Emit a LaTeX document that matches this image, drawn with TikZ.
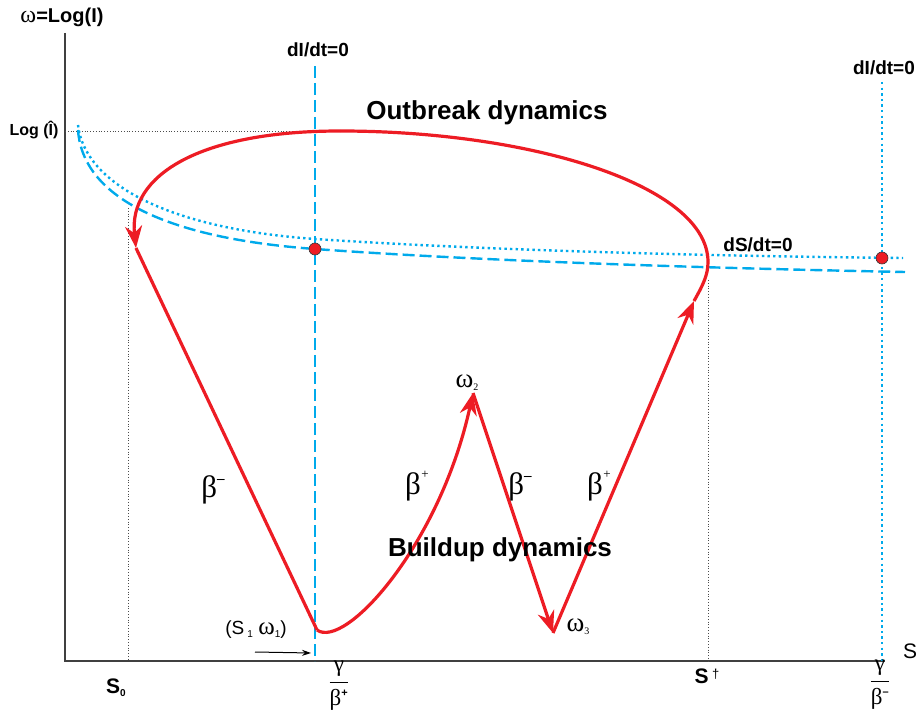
\documentclass[tikz,border=0pt]{standalone}
\usepackage{fontspec}
\setmainfont{Liberation Sans}
\newfontfamily\grk{Liberation Serif}
\usetikzlibrary{arrows.meta, positioning}
\definecolor{orbitred}{RGB}{237,28,36}
\definecolor{nullblue}{RGB}{0,170,235}

\newcommand{\bplus}{{\grk β}\kern0.5pt\raisebox{16pt}{\fontsize{13}{13}\selectfont +}}
\newcommand{\bminus}{{\grk β}\raisebox{14pt}{\fontsize{15}{15}\selectfont\bfseries –}}
\newcommand{\sub}[1]{\raisebox{-3pt}{\fontsize{10}{10}\selectfont #1}}

\begin{document}
\begin{tikzpicture}[x=1pt,y=-1pt,>={Stealth[length=22pt,width=17pt]},
    axis/.style={draw=black!75,line width=1.2pt},
    guide/.style={draw=black!70,line width=0.8pt,dotted},
    dashnull/.style={draw=nullblue,line width=2.4pt,dash pattern=on 12pt off 5pt},
    dotnull/.style={draw=nullblue,line width=2.4pt,dash pattern=on 2.4pt off 3.2pt},
    orbit/.style={draw=orbitred,line width=3.2pt},
    eq/.style={circle,fill=orbitred,draw=black!80,line width=0.6pt,inner sep=0pt,minimum size=12pt},
    big/.style={font=\fontsize{26}{30}\selectfont\bfseries},
    lab/.style={font=\fontsize{19}{22}\selectfont\bfseries},
    greek/.style={font=\fontsize{31}{34}\selectfont\grk}]
  \useasboundingbox (0,0) rectangle (916,711);

  % axes
  \coordinate (O) at (65,661);
  \coordinate (ytop) at (65,33);
  \coordinate (xend) at (885,661);
  \draw[axis] (ytop) -- (O) -- (xend);

  % guide lines
  \coordinate (lhat) at (65,131);
  \coordinate (lhatend) at (340,131);
  \coordinate (g0top) at (128,208);
  \coordinate (g0) at (128,661);
  \coordinate (gdtop) at (708,280);
  \coordinate (gd) at (708,661);
  \draw[guide] (lhat) -- (lhatend);
  \draw[guide] (g0top) -- (g0);
  \draw[guide] (gdtop) -- (gd);

  % nullclines
  \coordinate (n1top) at (315,66);
  \coordinate (n1) at (315,661);
  \coordinate (n2top) at (882,82);
  \coordinate (n2) at (882,661);
  \draw[dashnull] (n1top) -- (n1);
  \draw[dotnull] (n2top) -- (n2);
  \draw[dotnull] (78,125) .. controls (84,180) and (160,228) .. (315,239)
                          .. controls (480,250) and (700,256) .. (903,258);
  \draw[dashnull] (78,130) .. controls (82,190) and (150,237) .. (315,249)
                          .. controls (480,261) and (700,268) .. (905,272);

  % orbit
  \coordinate (s1) at (317,630);
  \coordinate (w2) at (473,393);
  \coordinate (w3) at (553,633);
  \coordinate (up) at (694,301);
  \coordinate (right) at (708,262);
  \coordinate (top) at (340,131);
  \coordinate (down) at (136,248);
  \draw[orbit,->] (s1) .. controls (345,650) and (440,545) .. (w2);
  \draw[orbit,->] (w2) -- (w3);
  \draw[orbit,->] (w3) -- (up);
  \draw[orbit] (up) .. controls (703,285) and (708,275) .. (right)
                    .. controls (708,185) and (530,131) .. (top);
  \draw[orbit,->] (top) .. controls (200,131) and (128,175) .. (down);
  \draw[orbit] (down) -- (s1);

  % equilibria
  \node[eq] (e1) at (315,249) {};
  \node[eq] (e2) at (882,258) {};

  % labels
  \node[font=\fontsize{20}{24}\selectfont\bfseries] (ylab) at (62,17) {{\grk\mdseries\fontsize{24}{24}\selectfont ω}=Log(I)};
  \node[font=\fontsize{16}{18}\selectfont\bfseries,anchor=east] (lhatlab) at (62,130) {Log (Î)};
  \node[lab] (di1) at (318,50) {dI/dt=0};
  \node[lab] (di2) at (884,68) {dI/dt=0};
  \node[lab] (ds) at (758,245) {dS/dt=0};
  \node[big] (outb) at (487,113) {Outbreak dynamics};
  \node[big] (build) at (500,550) {Buildup dynamics};

  \node[greek] (b1) at (213,490) {\bminus};
  \node[greek] (b2) at (417,486) {\bplus};
  \node[greek] (b3) at (520,487) {\bminus};
  \node[greek] (b4) at (599,486) {\bplus};

  \node[font=\fontsize{27}{30}\selectfont\grk] (w2lab) at (467,383) {ω\sub{2}};
  \node[font=\fontsize{27}{30}\selectfont\grk] (w3lab) at (578,627) {ω\sub{3}};
  \node[font=\fontsize{19}{22}\selectfont] (s1lab) at (256,630) {(S\,\sub{1}\ {\grk\fontsize{25}{25}\selectfont ω}\sub{1})};
  \coordinate (pa) at (255,652);
  \coordinate (pb) at (311,653);
  \draw[-{Stealth[length=9pt,width=6pt]},line width=1pt] (pa) -- (pb);

  \node[font=\fontsize{21}{24}\selectfont] (slab) at (910,651) {S};
  \node[font=\fontsize{21}{24}\selectfont\bfseries] (s0lab) at (116,688) {S\sub{0}};
  \node[font=\fontsize{21}{24}\selectfont\bfseries] (sdlab) at (707,676) {S\,\raisebox{5pt}{\fontsize{13}{13}\selectfont\mdseries †}};
  \node[font=\fontsize{23}{26}\selectfont] (f1) at (339,686)
    {$\displaystyle\frac{\mbox{\grk γ}}{\mbox{\grk β}^{\mbox{\fontsize{11}{11}\selectfont\bfseries +}}}$};
  \node[font=\fontsize{23}{26}\selectfont] (f2) at (880,685)
    {$\displaystyle\frac{\mbox{\grk γ}}{\mbox{\grk β}^{\mbox{\fontsize{11}{11}\selectfont\bfseries –}}}$};
\end{tikzpicture}
\end{document}
